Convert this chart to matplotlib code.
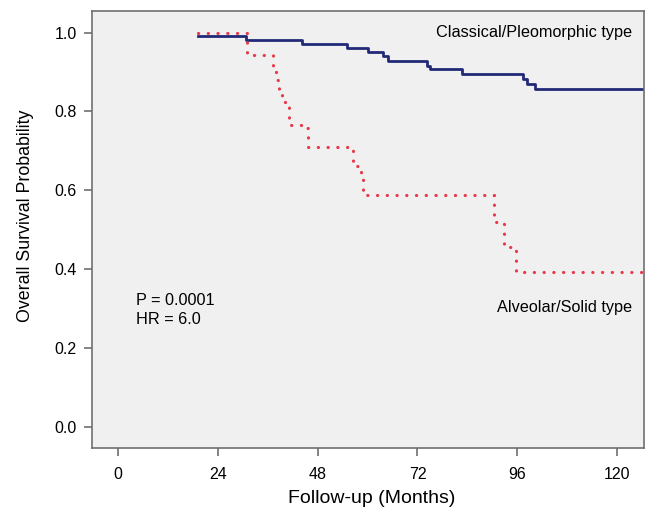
import matplotlib
matplotlib.use("Agg")
import matplotlib.pyplot as plt

plt.rcParams['font.family'] = ['Liberation Sans', 'DejaVu Sans']

# Kaplan-Meier steps (months, survival)
classical_t = [19.3, 30.7, 44.1, 55.0, 60.2, 63.8, 65.0, 74.4, 75.0, 82.7, 97.3, 98.3, 100.3, 130]
classical_s = [0.992, 0.981, 0.972, 0.960, 0.952, 0.941, 0.929, 0.916, 0.907, 0.895, 0.882, 0.870, 0.857, 0.857]

alveolar_t = [19.3, 30.9, 37.2, 38.0, 38.6, 39.3, 41.1, 45.0, 45.7, 56.6, 57.8, 58.5, 59.0, 90.3, 92.7, 95.7, 130]
alveolar_s = [1.0, 0.943, 0.910, 0.880, 0.855, 0.825, 0.766, 0.757, 0.711, 0.662, 0.650, 0.637, 0.588, 0.520, 0.457, 0.393, 0.393]

xticks = [0, 24, 48, 72, 96, 120]
yticks = [0.0, 0.2, 0.4, 0.6, 0.8, 1.0]

fig = plt.figure(figsize=(6.47, 5.11), dpi=100)
ax = fig.add_axes([0.1422, 0.1239, 0.8532, 0.8546])
ax.set_facecolor('#f0f0f0')

ax.step(classical_t, classical_s, where='post', color='#222a78', lw=2.0)
ax.step(alveolar_t, alveolar_s, where='post', color='#e8384a', lw=2.3,
        linestyle=(0, (0.05, 3.0)), dash_capstyle='round')

ax.set_xlim(-6.3, 126.5)
ax.set_ylim(-0.053, 1.055)
ax.set_xticks(xticks)
ax.set_yticks(yticks)
ax.set_yticklabels(['%.1f' % v for v in yticks])

for s in ax.spines.values():
    s.set_color('#707070')
    s.set_linewidth(1.2)
ax.tick_params(direction='out', length=6, width=1.2, color='#707070',
               labelsize=11.5)
ax.tick_params(axis='x', pad=8)
ax.tick_params(axis='y', pad=5)

ax.set_xlabel('Follow-up (Months)', fontsize=14)
ax.set_ylabel('Overall Survival Probability', fontsize=12.8)
ax.xaxis.set_label_coords(0.507, -0.097)
ax.yaxis.set_label_coords(-0.105, 0.53)

ax.text(0.978, 0.950, 'Classical/Pleomorphic type', transform=ax.transAxes,
        ha='right', va='center', fontsize=11.7)
ax.text(0.978, 0.322, 'Alveolar/Solid type', transform=ax.transAxes,
        ha='right', va='center', fontsize=11.7)
ax.text(0.080, 0.338, 'P = 0.0001', transform=ax.transAxes,
        ha='left', va='center', fontsize=11.7)
ax.text(0.080, 0.293, 'HR = 6.0', transform=ax.transAxes,
        ha='left', va='center', fontsize=11.7)

fig.savefig('out.png', dpi=100)
